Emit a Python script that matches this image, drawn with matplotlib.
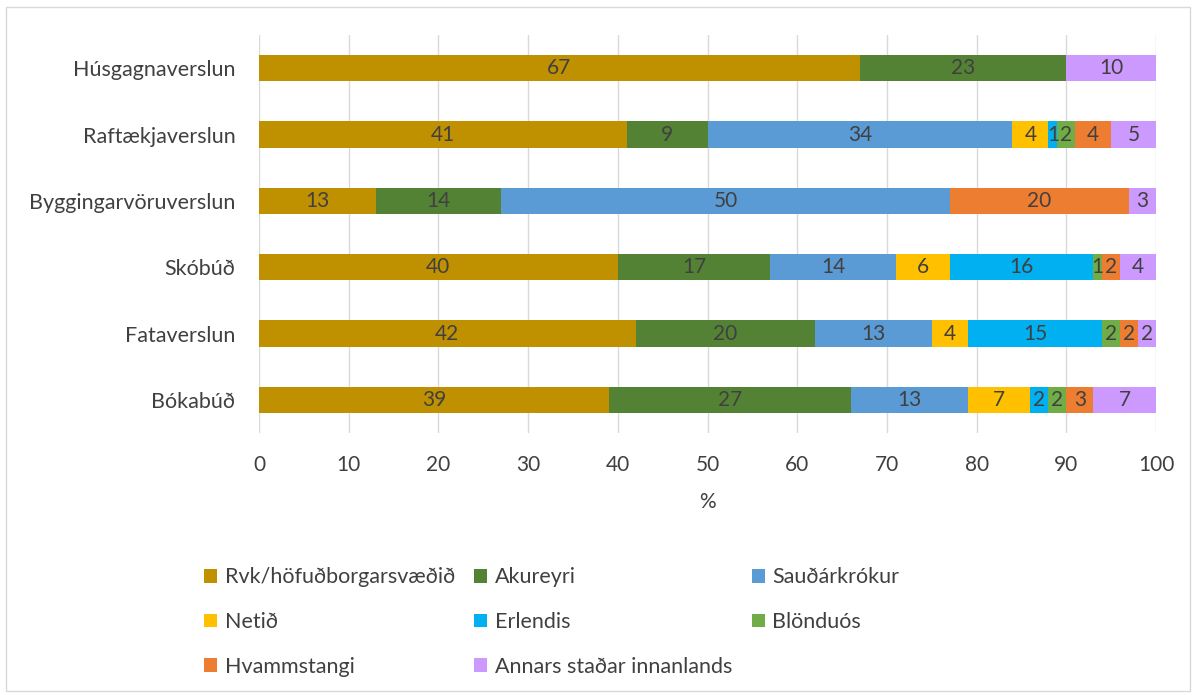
import numpy as np
import matplotlib
matplotlib.use('Agg')
import matplotlib.pyplot as plt
from matplotlib.patches import Rectangle

# ─────────────────────────────────────────
# DATA (percent, bottom row first)
# ─────────────────────────────────────────

STORES = ['Bókabúð', 'Fataverslun', 'Skóbúð', 'Byggingarvöruverslun',
          'Raftækjaverslun', 'Húsgagnaverslun']

SERIES = ['Rvk/höfuðborgarsvæðið', 'Akureyri', 'Sauðárkrókur', 'Netið',
          'Erlendis', 'Blönduós', 'Hvammstangi', 'Annars staðar innanlands']

rvk = [39, 42, 40, 13, 41, 67]
akureyri = [27, 20, 17, 14, 9, 23]
saudarkrokur = [13, 13, 14, 50, 34, 0]
netid = [7, 4, 6, 0, 4, 0]
erlendis = [2, 15, 16, 0, 1, 0]
blonduos = [2, 2, 1, 0, 2, 0]
hvammstangi = [3, 2, 2, 20, 4, 0]
annars = [7, 2, 4, 3, 5, 10]

VALUES = [rvk, akureyri, saudarkrokur, netid, erlendis, blonduos, hvammstangi, annars]

COLORS = ['#BF9000', '#548235', '#5B9BD5', '#FFC000',
          '#00B0F0', '#70AD47', '#ED7D31', '#CC99FF']

TEXT = '#404040'
W, H = 1196, 695
plt.rcParams['font.family'] = ['Lato', 'DejaVu Sans']

# ─────────────────────────────────────────
# PLOT
# ─────────────────────────────────────────

fig = plt.figure(figsize=(W / 100, H / 100), dpi=100)
ax = fig.add_axes([259 / W, (H - 433) / H, 897 / W, 398 / H])

y = np.arange(len(STORES))
left = np.zeros(len(STORES))
handles = []
for name, vals, col in zip(SERIES, VALUES, COLORS):
    vals = np.array(vals, dtype=float)
    bars = ax.barh(y, vals, left=left, height=0.4, color=col, label=name, zorder=3)
    handles.append(bars)
    for yi, v, l in zip(y, vals, left):
        if v > 0:
            ax.text(l + v / 2, yi, f'{v:.0f}', ha='center', va='center',
                    fontsize=15, color=TEXT, zorder=4)
    left += vals

ax.set_xlim(0, 100)
ax.set_ylim(-0.5, 5.5)
ax.set_xticks(np.arange(0, 101, 10))
ax.set_yticks(y)
ax.set_yticklabels(STORES)
ax.tick_params(axis='both', length=0, colors=TEXT)
ax.tick_params(axis='y', pad=17, labelsize=15.5)
ax.tick_params(axis='x', pad=16, labelsize=15)
ax.grid(axis='x', color='#D9D9D9', linewidth=1, zorder=0)
for s in ax.spines.values():
    s.set_visible(False)
fig.text(707 / W, 1 - 502 / H, '%', ha='center', va='center',
         fontsize=15, color=TEXT)

# legend laid out row by row
order = [0, 3, 6, 1, 4, 7, 2, 5]
fig.legend([handles[i] for i in order], [SERIES[i] for i in order],
           ncol=3, loc='upper left', bbox_to_anchor=(185 / W, 1 - 548 / H),
           frameon=False, fontsize=15.5, labelcolor=TEXT,
           handlelength=0.6, handleheight=0.6, handletextpad=0.35,
           columnspacing=0.9, labelspacing=1.15)

fig.patches.append(Rectangle((6 / W, 4 / H), 1184 / W, 684 / H,
                             transform=fig.transFigure, fill=False,
                             edgecolor='#D9D9D9', linewidth=1))

fig.savefig('out.png', dpi=100)
